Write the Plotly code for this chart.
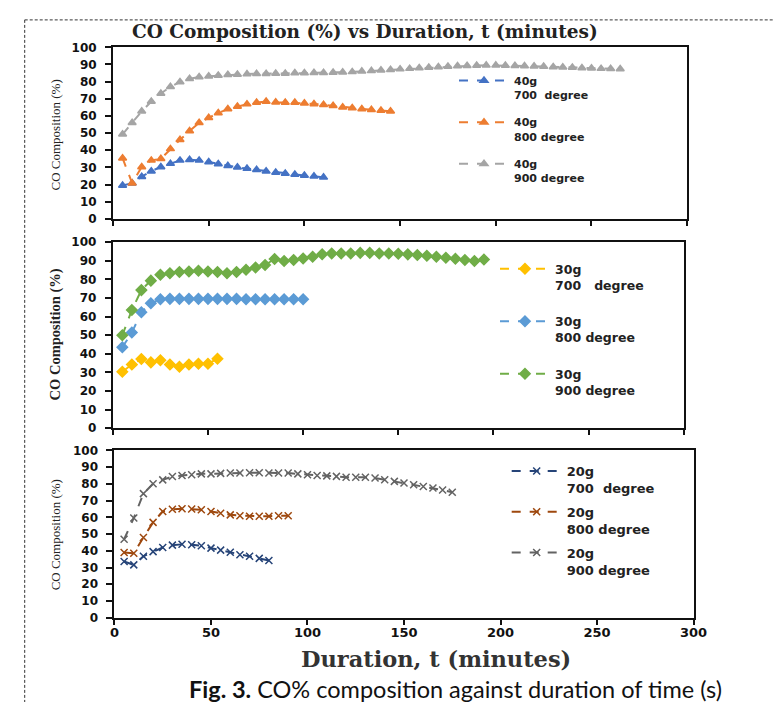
import plotly.graph_objects as go

W, H = 781, 702

# ---------------- data ----------------
t40_700 = list(range(5, 111, 5))
co40_700 = [19.4, 20.8, 24.6, 27.8, 30.3, 32.2, 34.1, 34.5, 34.1, 33.1, 32.0,
            30.9, 30.1, 29.3, 28.6, 27.8, 27.0, 26.5, 25.9, 25.3, 24.8, 24.2]
t40_800 = list(range(5, 146, 5))
co40_800 = [35.4, 20.8, 30.3, 34.1, 35.0, 40.8, 46.1, 51.2, 56.0, 58.9, 61.7,
            64.0, 65.5, 66.9, 67.8, 68.4, 68.0, 67.8, 67.8, 67.4, 67.0, 66.5,
            65.9, 65.1, 64.6, 64.1, 63.6, 63.2, 62.7]
t40_900 = list(range(5, 266, 5))
co40_900 = [49.3, 56.0, 62.7, 68.4, 73.1, 77.0, 79.8, 81.7, 82.7, 83.2, 83.6,
            84.0, 84.2, 84.4, 84.6, 84.6, 84.8, 84.8, 85.0, 85.0, 85.2, 85.2,
            85.4, 85.5, 85.7, 86.0, 86.3, 86.6, 87.0, 87.3, 87.6, 88.0, 88.3,
            88.6, 88.9, 89.1, 89.3, 89.4, 89.5, 89.5, 89.4, 89.3, 89.1, 89.0,
            88.8, 88.6, 88.4, 88.2, 88.0, 87.8, 87.6, 87.5, 87.4]

t30_700 = list(range(5, 56, 5))
co30_700 = [30.4, 34.2, 37.2, 35.4, 36.5, 34.2, 33.0, 34.2, 34.7, 34.7, 37.4]
t30_800 = list(range(5, 101, 5))
co30_800 = [43.5, 51.4, 62.3, 67.2, 69.3, 69.5, 69.5, 69.5, 69.5, 69.5, 69.5,
            69.5, 69.5, 69.3, 69.3, 69.3, 69.3, 69.3, 69.3, 69.3]
t30_900 = list(range(5, 196, 5))
co30_900 = [50.0, 63.5, 74.2, 79.3, 82.5, 83.3, 83.9, 84.2, 84.6, 84.2, 83.9,
            83.3, 83.9, 85.1, 86.3, 87.7, 90.9, 89.8, 90.4, 91.2, 92.1, 93.5,
            93.9, 93.9, 93.9, 94.2, 94.2, 93.9, 93.9, 93.7, 93.4, 93.0, 92.6,
            92.1, 91.6, 91.0, 90.4, 89.8, 90.6]

t20_700 = list(range(5, 81, 5))
co20_700 = [33.6, 31.6, 36.7, 39.5, 42.0, 43.4, 43.9, 43.6, 43.0, 41.6, 40.4,
            39.1, 37.7, 36.7, 35.5, 34.2]
t20_800 = list(range(5, 91, 5))
co20_800 = [39.0, 38.5, 48.0, 57.0, 63.5, 64.8, 65.2, 65.0, 64.5, 63.5, 62.5,
            61.5, 61.0, 60.7, 60.7, 60.7, 61.0, 61.0]
t20_900 = list(range(5, 176, 5))
co20_900 = [46.9, 59.6, 74.2, 80.1, 82.4, 84.4, 85.0, 85.5, 86.0, 86.0, 86.3,
            86.5, 86.5, 86.7, 86.7, 86.5, 86.5, 86.5, 86.0, 85.5, 85.0, 84.8,
            84.5, 84.0, 84.0, 84.0, 83.5, 82.5, 81.5, 80.5, 79.5, 78.5, 77.5,
            76.3, 75.0]

names40 = ["40g<br>700\u00a0\u00a0degree", "40g<br>800 degree", "40g<br>900 degree"]
names30 = ["30g<br>700\u00a0\u00a0\u00a0degree", "30g<br>800 degree", "30g<br>900 degree"]
names20 = ["20g<br>700\u00a0\u00a0degree", "20g<br>800 degree", "20g<br>900 degree"]

x_ticks = [0, 50, 100, 150, 200, 250, 300]
y_ticks = list(range(0, 101, 10))

title_text = "CO Composition (%) vs Duration, t (minutes)"
xtitle_text = "Duration, t (minutes)"
ytitle_text = "CO Composition (%)"
caption_text = "<b>Fig. 3.</b> CO% composition against duration of time (s)"

# ---------------- helpers ----------------
def px(x):
    return x / W

def py(y):
    return 1 - y / H

fig = go.Figure()

panels = [
    dict(ts=[t40_700, t40_800, t40_900], ys=[co40_700, co40_800, co40_900],
         names=names40, colors=["#4472C4", "#ED7D31", "#A5A5A5"],
         symbol="triangle-up", size=7, ax="", leg="legend"),
    dict(ts=[t30_700, t30_800, t30_900], ys=[co30_700, co30_800, co30_900],
         names=names30, colors=["#FFC000", "#5B9BD5", "#70AD47"],
         symbol="diamond", size=8, ax="2", leg="legend2"),
    dict(ts=[t20_700, t20_800, t20_900], ys=[co20_700, co20_800, co20_900],
         names=names20, colors=["#264478", "#9E480E", "#636363"],
         symbol="x-thin-open", size=7, ax="3", leg="legend3"),
]

for p in panels:
    for i in range(3):
        fig.add_trace(go.Scatter(
            x=p["ts"][i], y=p["ys"][i], name=p["names"][i],
            mode="lines+markers",
            line=dict(color=p["colors"][i], width=2, dash="dash"),
            marker=dict(symbol=p["symbol"], size=p["size"], color=p["colors"][i],
                        line=dict(color=p["colors"][i], width=1.5)),
            xaxis="x" + p["ax"], yaxis="y" + p["ax"],
            legend=p["leg"], legendgroup=p["leg"] + str(i),
        ))

tick_font = dict(family="DejaVu Sans", size=12, color="#111", weight="bold")
xtick_font = dict(family="DejaVu Sans", size=13, color="#111", weight="bold")

def xa(domain, labels, anchor):
    return dict(domain=domain, range=[0, 300], tickvals=x_ticks, anchor=anchor,
                showticklabels=labels, ticks="outside", ticklen=5, tickwidth=1.5,
                tickcolor="#111", showline=True, linewidth=2, linecolor="#111",
                mirror=True, showgrid=False, zeroline=False, tickfont=xtick_font,
                ticklabelstandoff=-3, fixedrange=True)

def ya(domain, anchor):
    return dict(domain=domain, range=[0, 100], tickvals=y_ticks, anchor=anchor,
                ticks="outside", ticklen=6, tickwidth=1.5, tickcolor="#111",
                showline=True, linewidth=2, linecolor="#111", mirror=True,
                showgrid=False, zeroline=False, tickfont=tick_font,
                ticklabelstandoff=6, fixedrange=True)

leg_font = dict(family="DejaVu Sans", size=12, color="#222", weight="bold")

def legend(x, y, size, gap):
    return dict(x=px(x), y=py(y), xanchor="left", yanchor="top",
                bgcolor="rgba(0,0,0,0)", font=dict(leg_font, size=size),
                valign="top", tracegroupgap=gap, itemwidth=50)

fig.update_layout(
    width=W, height=H,
    margin=dict(l=0, r=0, t=0, b=0),
    paper_bgcolor="white", plot_bgcolor="white",
    showlegend=True,
    xaxis=xa([px(102.5), px(691)], False, "y"),
    yaxis=ya([py(208), py(33)], "x"),
    xaxis2=xa([px(102.3), px(687.5)], False, "y2"),
    yaxis2=ya([py(421.7), py(231.7)], "x2"),
    xaxis3=xa([px(104), px(697.5)], True, "y3"),
    yaxis3=ya([py(615), py(444.3)], "x3"),
    legend=legend(452, 53, 11, 10),
    legend2=legend(494, 244, 12.5, 17),
    legend3=legend(506, 450, 13, 4),
)

serif = "Liberation Serif"
ann = [
    dict(text="<b>" + title_text + "</b>", x=px(361), y=py(17),
         font=dict(family="DejaVu Serif", size=18.5, color="#222")),
    dict(text="<b>" + xtitle_text + "</b>", x=px(434), y=py(657),
         font=dict(family="DejaVu Serif", size=22.5, color="#333")),
    dict(text=caption_text, x=px(454), y=py(688),
         font=dict(family="Lato", size=23.5, color="#111")),
    dict(text=ytitle_text, x=px(44), y=py(122), textangle=-90,
         font=dict(family=serif, size=13, color="#222")),
    dict(text="<b>" + ytitle_text + "</b>", x=px(44), y=py(326), textangle=-90,
         font=dict(family=serif, size=14.5, color="#222")),
    dict(text=ytitle_text, x=px(44), y=py(530), textangle=-90,
         font=dict(family=serif, size=13, color="#222")),
]
for a in ann:
    a.update(xref="paper", yref="paper", showarrow=False,
             xanchor="center", yanchor="middle")
fig.update_layout(annotations=ann)

border = dict(color="#333", width=1, dash="3px,2px")
fig.update_layout(shapes=[
    dict(type="line", xref="paper", yref="paper", x0=px(12), x1=1, y0=py(5), y1=py(5), line=border),
    dict(type="line", xref="paper", yref="paper", x0=px(12), x1=px(12), y0=py(5), y1=0, line=border),
])

fig.write_html("out.html")
